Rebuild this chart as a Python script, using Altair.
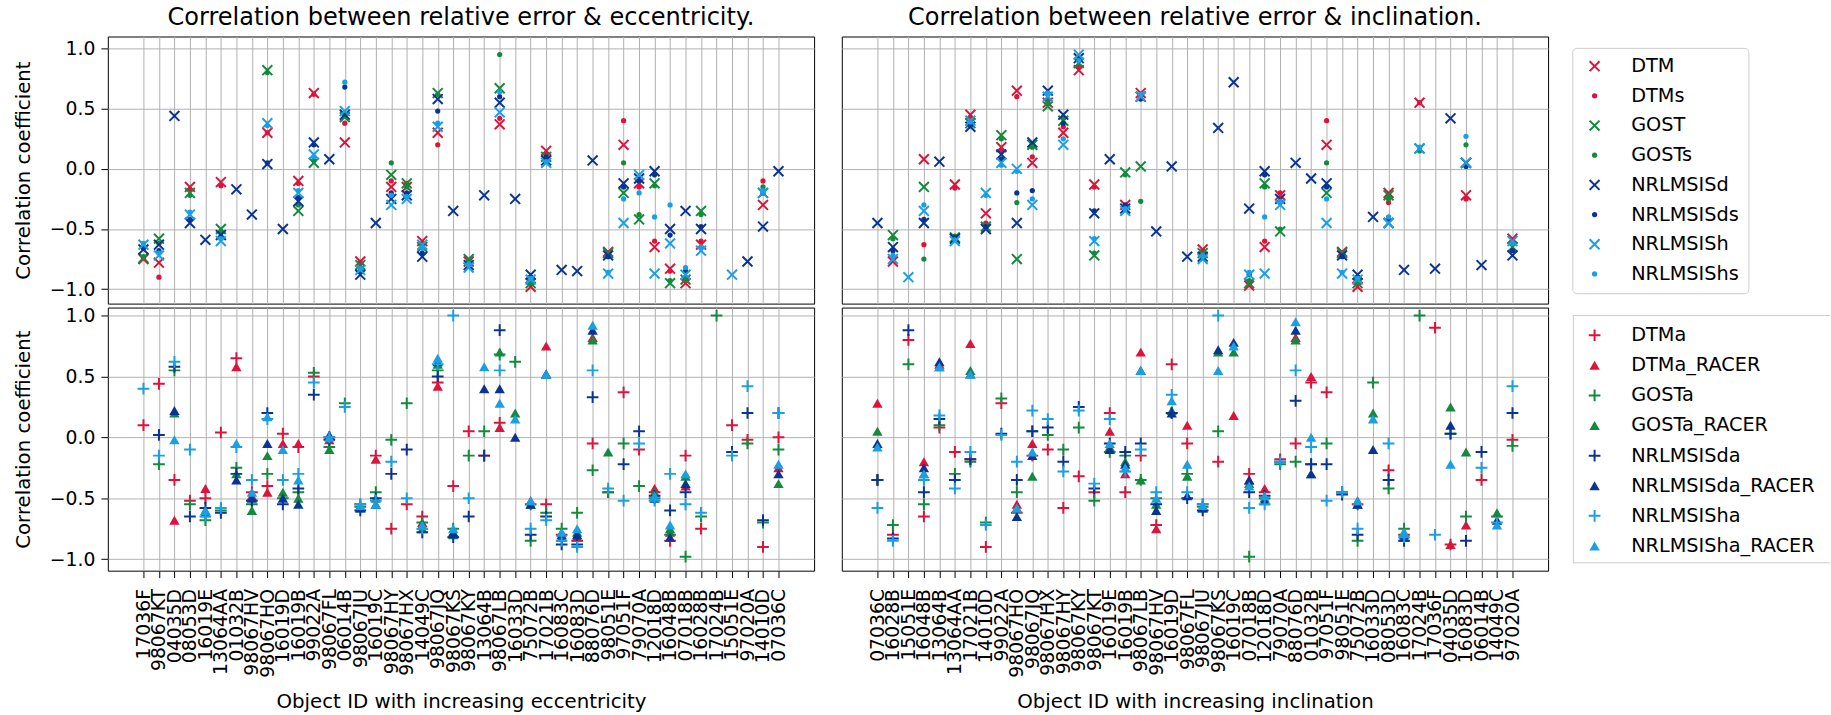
import json

import altair as alt
import pandas as pd

N = None

# Objects ordered by increasing eccentricity / inclination
ECC_IDS = ["17036F", "98067KT", "04035D", "08053D", "16019E", "13064AA", "01032B",
           "98067HV", "98067HO", "16019D", "16019B", "99022A", "98067FL", "06014B",
           "98067JU", "16019C", "98067HY", "98067HX", "14049C", "98067JQ", "98067KS",
           "98067KY", "13064B", "98067LB", "16033D", "75072B", "17021B", "16083C",
           "16083D", "88076D", "98051E", "97051F", "79070A", "12018D", "16048B",
           "07018B", "16028B", "17024B", "15051E", "97020A", "14010D", "07036C"]
INC_IDS = ["07036C", "16028B", "15051E", "16048B", "13064B", "13064AA", "17021B",
           "14010D", "99022A", "98067HO", "98067JQ", "98067HX", "98067HY", "98067KY",
           "98067KT", "16019E", "16019B", "98067LB", "98067HV", "16019D", "98067FL",
           "98067JU", "98067KS", "16019C", "07018B", "12018D", "79070A", "88076D",
           "01032B", "97051F", "98051E", "75072B", "16033D", "08053D", "16083C",
           "17024B", "17036F", "04035D", "16083D", "06014B", "14049C", "97020A"]

TOP_SERIES = ["DTM", "DTMs", "GOST", "GOSTs", "NRLMSISd", "NRLMSISds", "NRLMSISh", "NRLMSIShs"]
BOT_SERIES = ["DTMa", "DTMa_RACER", "GOSTa", "GOSTa_RACER",
              "NRLMSISda", "NRLMSISda_RACER", "NRLMSISha", "NRLMSISha_RACER"]

# ---- correlation with eccentricity: density models ----
ECC_TOP = {
    "DTM":       [-0.75, -0.78, N, -0.15, N, -0.11, N, N, 0.30, N, -0.10, 0.63, N, 0.22, -0.77, N, -0.15, -0.15, -0.60, 0.30, N, -0.77, N, 0.37, N, -0.98, 0.15, N, N, N, -0.69, 0.20, -0.12, -0.65, -0.83, -0.95, -0.63, N, N, N, -0.30, N],
    "DTMs":      [-0.74, -0.90, N, -0.17, N, -0.14, N, N, 0.30, N, -0.12, 0.62, N, 0.38, -0.78, N, -0.10, -0.12, -0.62, 0.20, N, -0.78, N, 0.42, N, -0.95, 0.12, N, N, N, -0.70, 0.40, -0.15, -0.60, -0.85, -0.92, -0.60, N, N, N, -0.10, N],
    "GOST":      [-0.74, -0.58, N, -0.20, N, -0.50, N, N, 0.82, N, -0.35, 0.05, N, 0.43, -0.80, N, -0.05, -0.12, -0.65, 0.63, N, -0.75, N, 0.67, N, -0.95, 0.10, N, N, N, -0.70, -0.20, -0.42, -0.12, -0.95, -0.92, -0.35, N, N, N, -0.20, N],
    "GOSTs":     [-0.73, -0.62, N, -0.22, N, -0.52, N, N, 0.80, N, -0.30, 0.07, N, 0.45, -0.82, N, 0.05, -0.15, -0.64, 0.62, N, -0.76, N, 0.95, N, -0.93, 0.08, N, N, N, -0.71, 0.05, -0.38, -0.14, -0.93, -0.90, -0.38, N, N, N, -0.15, N],
    "NRLMSISd":  [-0.67, -0.63, 0.44, -0.45, -0.59, -0.55, -0.17, -0.38, 0.04, -0.50, -0.27, 0.22, 0.08, 0.45, -0.88, -0.45, -0.25, -0.22, -0.73, 0.58, -0.35, -0.80, -0.22, 0.55, -0.25, -0.88, 0.07, -0.84, -0.85, 0.07, -0.72, -0.12, -0.08, -0.02, -0.50, -0.35, -0.50, N, N, -0.77, -0.48, -0.02],
    "NRLMSISds": [-0.66, -0.68, N, -0.42, N, -0.56, N, N, 0.05, N, -0.24, 0.20, N, 0.68, -0.85, N, -0.20, -0.20, -0.70, 0.48, N, -0.80, N, 0.60, N, -0.90, 0.10, N, N, N, -0.73, -0.15, -0.10, -0.05, -0.55, -0.85, -0.48, N, N, N, -0.20, N],
    "NRLMSISh":  [-0.63, -0.72, N, -0.38, N, -0.60, N, N, 0.38, N, -0.20, 0.12, N, 0.48, -0.84, N, -0.30, -0.25, -0.63, 0.35, N, -0.82, N, 0.47, N, -0.92, 0.05, N, N, N, -0.87, -0.45, -0.05, -0.87, -0.62, -0.88, -0.68, N, -0.88, N, -0.20, N],
    "NRLMSIShs": [-0.62, -0.70, N, -0.36, N, -0.58, N, N, 0.36, N, -0.18, 0.10, N, 0.72, -0.83, N, -0.22, -0.23, -0.66, 0.38, N, -0.79, N, 0.64, N, -0.91, 0.06, N, N, N, -0.86, -0.25, -0.20, -0.40, -0.30, -0.82, -0.65, N, N, N, -0.18, N],
}

# ---- correlation with inclination: density models ----
INC_TOP = {
    "DTM":       [N, -0.77, N, 0.08, N, -0.13, 0.45, -0.37, 0.18, 0.65, 0.05, 0.55, 0.30, 0.82, -0.13, N, -0.30, 0.63, N, N, N, -0.67, N, N, -0.97, -0.65, -0.22, N, N, 0.20, -0.69, -0.98, N, -0.20, N, 0.55, N, N, -0.22, N, N, -0.58],
    "DTMs":      [N, -0.75, N, -0.63, N, -0.16, 0.42, -0.45, 0.15, 0.60, 0.10, 0.58, 0.35, 0.85, -0.15, N, -0.32, 0.62, N, N, N, -0.68, N, N, -0.95, -0.60, -0.20, N, N, 0.40, -0.70, -0.95, N, -0.28, N, 0.55, N, N, -0.25, N, N, -0.60],
    "GOST":      [N, -0.55, N, -0.15, N, -0.57, 0.38, -0.48, 0.28, -0.75, 0.20, 0.52, 0.40, 0.88, -0.72, N, -0.03, 0.02, N, N, N, -0.70, N, N, -0.95, -0.12, -0.52, N, N, -0.20, -0.70, -0.95, N, -0.22, N, 0.17, N, N, 0.05, N, N, -0.65],
    "GOSTs":     [N, -0.58, N, -0.75, N, -0.56, 0.37, -0.47, 0.25, -0.28, 0.18, 0.55, 0.42, 0.90, -0.70, N, -0.05, -0.27, N, N, N, -0.71, N, N, -0.93, -0.15, -0.50, N, N, 0.05, -0.71, -0.93, N, -0.25, N, 0.15, N, N, 0.20, N, N, -0.62],
    "NRLMSISd":  [-0.45, -0.65, N, -0.45, 0.06, -0.58, 0.35, -0.50, 0.12, -0.45, 0.22, 0.65, 0.45, 0.92, -0.37, 0.08, -0.33, 0.60, -0.52, 0.02, -0.73, -0.73, 0.34, 0.72, -0.33, -0.02, -0.25, 0.05, -0.08, -0.12, -0.72, -0.88, -0.40, -0.45, -0.84, N, -0.83, 0.42, 0.05, -0.80, N, -0.72],
    "NRLMSISds": [N, -0.68, N, -0.42, N, -0.57, 0.36, -0.48, 0.08, -0.20, -0.18, 0.62, 0.38, 0.93, -0.35, N, -0.30, 0.58, N, N, N, -0.74, N, N, -0.88, -0.05, -0.28, N, N, -0.15, -0.73, -0.90, N, -0.42, N, N, N, N, 0.02, N, N, -0.68],
    "NRLMSISh":  [N, -0.75, -0.90, -0.35, N, -0.60, 0.40, -0.20, 0.05, 0.00, -0.30, 0.60, 0.20, 0.95, -0.60, N, -0.35, 0.60, N, N, N, -0.75, N, N, -0.88, -0.87, -0.30, N, N, -0.45, -0.87, -0.92, N, -0.45, N, 0.17, N, N, 0.05, N, N, -0.60],
    "NRLMSIShs": [N, -0.72, N, -0.30, N, -0.59, 0.39, -0.22, 0.03, -0.02, -0.25, 0.63, 0.25, 0.90, -0.58, N, -0.33, 0.62, N, N, N, -0.72, N, N, -0.86, -0.40, -0.27, N, N, -0.25, -0.86, -0.91, N, -0.40, N, 0.18, N, N, 0.27, N, N, -0.62],
}

# ---- correlation with eccentricity: adjusted models ----
ECC_BOT = {
    "DTMa":            [0.10, 0.44, -0.35, -0.52, -0.50, 0.04, 0.65, -0.45, -0.40, 0.03, -0.08, 0.50, 0.00, N, -0.55, -0.15, -0.75, -0.55, -0.65, 0.45, -0.40, 0.05, -0.15, 0.12, N, -0.55, -0.55, -0.80, -0.85, -0.05, -0.45, 0.37, -0.10, -0.45, -0.85, -0.15, -0.75, N, 0.10, -0.02, -0.90, 0.00],
    "DTMa_RACER":      [N, N, -0.68, N, -0.42, N, 0.58, -0.48, -0.45, -0.05, -0.05, N, -0.02, N, -0.57, -0.18, N, N, -0.70, 0.42, -0.78, N, N, 0.08, N, -0.52, 0.75, -0.82, -0.82, 0.82, N, N, N, -0.42, -0.78, -0.40, N, N, N, N, N, -0.25],
    "GOSTa":           [N, -0.22, 0.55, -0.55, -0.68, -0.60, -0.25, -0.55, -0.30, -0.50, -0.45, 0.53, -0.08, 0.28, -0.57, -0.45, -0.02, 0.28, -0.70, 0.55, -0.75, -0.15, 0.05, 0.68, 0.62, -0.85, -0.62, -0.75, -0.62, -0.27, -0.45, -0.05, -0.40, -0.50, -0.80, -0.98, -0.65, 1.00, N, -0.05, -0.70, -0.10],
    "GOSTa_RACER":     [N, N, 0.20, N, -0.60, N, -0.30, -0.60, -0.15, -0.45, -0.50, N, -0.10, N, -0.58, -0.50, N, N, -0.75, 0.60, -0.80, N, N, 0.70, 0.20, -0.55, 0.52, -0.78, -0.78, 0.80, -0.12, N, N, -0.45, -0.75, -0.32, N, N, N, N, N, -0.38],
    "NRLMSISda":       [N, 0.02, 0.58, -0.65, -0.58, -0.62, -0.30, -0.52, 0.20, -0.55, -0.42, 0.35, -0.02, N, -0.60, -0.50, -0.30, -0.10, -0.78, 0.50, -0.82, -0.65, -0.15, 0.88, N, -0.80, -0.65, -0.88, -0.88, 0.33, N, -0.22, 0.05, -0.48, -0.60, -0.45, N, N, -0.12, 0.20, -0.68, 0.20],
    "NRLMSISda_RACER": [N, N, 0.22, N, -0.62, N, -0.35, -0.50, -0.05, -0.50, -0.55, N, 0.02, N, -0.58, -0.55, N, N, -0.72, 0.62, -0.78, N, 0.40, 0.40, 0.00, -0.55, 0.52, -0.80, -0.80, 0.88, N, N, N, -0.50, -0.82, -0.38, N, N, N, N, N, -0.30],
    "NRLMSISha":       [0.40, -0.15, 0.62, -0.10, -0.65, -0.58, -0.08, -0.35, 0.15, -0.35, -0.30, 0.45, 0.00, 0.25, -0.55, -0.52, -0.20, -0.50, -0.75, 0.60, 1.00, -0.50, N, 0.55, N, -0.75, -0.68, -0.85, -0.90, 0.55, -0.42, -0.52, -0.05, -0.52, -0.30, -0.55, -0.62, N, -0.15, 0.42, N, 0.20],
    "NRLMSISha_RACER": [N, N, -0.02, N, -0.60, N, -0.05, -0.45, 0.17, -0.10, -0.35, N, 0.00, N, -0.56, -0.55, N, N, -0.72, 0.65, -0.75, N, 0.58, 0.28, 0.15, -0.52, 0.52, -0.78, -0.75, 0.92, N, N, N, -0.48, -0.72, -0.30, N, N, N, N, N, -0.22],
}

# ---- correlation with inclination: adjusted models ----
INC_BOT = {
    "DTMa":            [-0.35, -0.80, 0.80, -0.65, 0.08, -0.12, -0.18, -0.90, 0.28, -0.62, -0.15, -0.10, -0.58, -0.32, -0.45, 0.20, -0.45, -0.15, -0.72, 0.60, -0.05, -0.55, -0.20, N, -0.30, -0.45, -0.18, -0.05, 0.45, 0.37, -0.45, -0.55, N, -0.27, -0.80, N, 0.90, -0.88, N, -0.35, N, -0.02],
    "DTMa_RACER":      [0.28, N, N, -0.20, 0.60, N, 0.77, N, N, -0.55, -0.05, N, N, N, N, 0.05, -0.30, 0.70, -0.75, N, 0.10, -0.57, N, 0.18, -0.35, -0.42, N, 0.82, 0.50, N, N, -0.52, N, N, -0.82, N, N, -0.88, -0.72, N, N, N],
    "GOSTa":           [-0.35, -0.72, 0.60, -0.55, 0.10, -0.30, -0.20, -0.70, 0.32, -0.45, 0.05, 0.02, -0.10, 0.08, -0.52, -0.12, -0.15, -0.35, -0.50, 0.20, -0.30, -0.57, 0.05, N, -0.98, -0.50, -0.22, -0.20, -0.22, -0.05, -0.45, -0.85, 0.45, -0.42, -0.75, 1.00, N, 0.03, -0.65, N, -0.65, -0.07],
    "GOSTa_RACER":     [0.05, N, N, -0.30, 0.58, N, 0.55, N, N, -0.58, -0.32, N, N, N, N, -0.08, -0.20, -0.35, -0.55, 0.22, -0.32, -0.58, 0.70, 0.70, -0.38, -0.50, N, 0.80, -0.30, N, N, -0.55, 0.20, N, -0.78, N, N, 0.25, -0.12, N, -0.62, N],
    "NRLMSISda":       [-0.35, -0.83, 0.88, -0.45, 0.15, -0.35, -0.18, N, 0.03, -0.35, 0.05, 0.08, -0.20, 0.25, -0.42, -0.05, -0.12, -0.05, -0.55, 0.20, -0.50, -0.60, N, N, -0.45, -0.48, -0.20, 0.30, -0.22, -0.22, -0.47, -0.80, N, -0.35, -0.85, N, N, 0.03, -0.85, -0.12, N, 0.20],
    "NRLMSISda_RACER": [-0.05, N, N, -0.25, 0.62, N, 0.52, N, N, -0.65, -0.15, N, N, N, N, -0.10, -0.22, 0.55, -0.60, 0.20, -0.48, -0.58, 0.72, 0.78, -0.35, -0.52, N, 0.88, -0.30, N, N, -0.55, -0.10, N, -0.80, N, N, 0.10, N, N, -0.68, N],
    "NRLMSISha":       [-0.58, -0.85, N, -0.35, 0.18, -0.42, -0.12, -0.72, 0.02, -0.20, 0.22, 0.15, -0.28, 0.22, -0.38, 0.15, -0.28, -0.10, -0.45, 0.35, -0.45, -0.55, 1.00, N, -0.58, -0.55, -0.20, 0.55, -0.08, -0.52, -0.45, -0.75, N, -0.05, -0.82, N, -0.80, N, N, -0.25, -0.70, 0.42],
    "NRLMSISha_RACER": [-0.08, N, N, -0.30, 0.58, N, 0.52, N, N, -0.58, -0.12, N, N, N, N, -0.05, -0.25, 0.55, -0.50, 0.30, -0.22, -0.56, 0.55, 0.75, -0.40, -0.48, N, 0.95, 0.00, N, N, -0.52, 0.15, N, -0.78, N, N, -0.22, N, N, -0.72, N],
}

# Marker styling per series: colour, shape, filled, size
RED, GREEN, NAVY, SKY = "#dc143c", "#138a3c", "#0b3492", "#1a9fe3"
X_PATH = "M-1,-1L1,1M-1,1L1,-1"
PLUS_PATH = "M-1,0L1,0M0,-1L0,1"
STYLE = {
    "DTM": (RED, X_PATH, False, 100), "DTMs": (RED, "circle", True, 28),
    "GOST": (GREEN, X_PATH, False, 100), "GOSTs": (GREEN, "circle", True, 28),
    "NRLMSISd": (NAVY, X_PATH, False, 100), "NRLMSISds": (NAVY, "circle", True, 28),
    "NRLMSISh": (SKY, X_PATH, False, 100), "NRLMSIShs": (SKY, "circle", True, 28),
    "DTMa": (RED, PLUS_PATH, False, 140), "DTMa_RACER": (RED, "triangle-up", True, 110),
    "GOSTa": (GREEN, PLUS_PATH, False, 140), "GOSTa_RACER": (GREEN, "triangle-up", True, 110),
    "NRLMSISda": (NAVY, PLUS_PATH, False, 140), "NRLMSISda_RACER": (NAVY, "triangle-up", True, 110),
    "NRLMSISha": (SKY, PLUS_PATH, False, 140), "NRLMSISha_RACER": (SKY, "triangle-up", True, 110),
}

FONT = "DejaVu Sans"
PANEL_W = 714
TOP_H, BOT_H = 270, 266
TICKS = [-1.0, -0.5, 0.0, 0.5, 1.0]
X_MARGIN = 2.3  # category slots left free on each side of the first/last object


def to_long(ids, table):
    rows = []
    for name, vals in table.items():
        if len(vals) != len(ids):
            raise ValueError(f"{name}: {len(vals)} values for {len(ids)} objects")
        for pos, v in enumerate(vals):
            if v is not None:
                rows.append({"pos": pos, "obj": ids[pos], "series": name, "value": v})
    return pd.DataFrame(rows)


def point_mark(series_name):
    color, shape, filled, size = STYLE[series_name]
    mark = dict(shape=shape, size=size, filled=filled, opacity=1)
    if filled:
        mark["fill"] = color
    else:
        mark.update(stroke=color, strokeWidth=2)
    return mark


def panel(ids, table, series, dom, height, top_row, left_col, title="", xtitle=""):
    data = to_long(ids, table)
    positions = list(range(len(ids)))
    if top_row:
        xaxis = alt.Axis(values=positions, title=None, labels=False, ticks=False,
                         domain=False, grid=True)
    else:
        xaxis = alt.Axis(values=positions, labelExpr=f"{json.dumps(ids)}[datum.value]",
                         title=xtitle, labelAngle=270, labelOverlap=False, labelFlush=False,
                         labelPadding=11, tickSize=7, domain=False, grid=True, titlePadding=15)
    if left_col:
        yaxis = alt.Axis(values=TICKS, format=".1f", title="Correlation coefficient",
                         tickSize=7, labelPadding=6, domain=False, grid=True, titlePadding=16)
    else:
        yaxis = alt.Axis(values=TICKS, labels=False, ticks=False, title=None,
                         domain=False, grid=True)
    x = alt.X("pos:Q", axis=xaxis,
              scale=alt.Scale(domain=[-X_MARGIN, len(ids) - 1 + X_MARGIN], nice=False, zero=False))
    y = alt.Y("value:Q", scale=alt.Scale(domain=dom, nice=False, zero=False), axis=yaxis)
    layers = [
        alt.Chart(data).transform_filter(alt.datum.series == s)
        .mark_point(**point_mark(s)).encode(x=x, y=y)
        for s in series
    ]
    props = dict(width=PANEL_W, height=height)
    if title:
        props["title"] = alt.TitleParams(title, fontSize=24.3, font=FONT, fontWeight="normal",
                                         anchor="middle", offset=6, color="black")
    return alt.layer(*layers).properties(**props)


def legend(series, height, width, box, y_first, y_last, closed):
    ldf = pd.DataFrame({"series": series})
    y = alt.Y("series:N", sort=series, axis=None,
              scale=alt.Scale(domain=series, range=[y_first, y_last], padding=0))
    x0, x1, y0, y1 = box
    first = alt.Chart(ldf).transform_filter(alt.datum.series == series[0])
    layers = [
        first.mark_rect(fill="white", stroke="#cccccc" if closed else "transparent",
                        strokeWidth=1, cornerRadius=4)
        .encode(x=alt.value(x0), x2=alt.value(x1), y=alt.value(y0), y2=alt.value(y1))
    ]
    if not closed:
        edge = first.mark_rule(color="#cccccc", strokeWidth=1)
        layers += [
            edge.encode(x=alt.value(x0), x2=alt.value(x1), y=alt.value(y0)),
            edge.encode(x=alt.value(x0), x2=alt.value(x1), y=alt.value(y1)),
            edge.encode(x=alt.value(x0 + 0.5), y=alt.value(y0), y2=alt.value(y1)),
        ]
    for s in series:
        layers.append(
            alt.Chart(ldf).transform_filter(alt.datum.series == s)
            .mark_point(**point_mark(s)).encode(x=alt.value(22), y=y)
        )
    layers.append(
        alt.Chart(ldf).mark_text(align="left", baseline="middle", font=FONT,
                                 fontSize=19.5, color="black")
        .encode(x=alt.value(59), y=y, text="series:N")
    )
    return alt.layer(*layers).properties(
        width=width, height=height, view=alt.ViewBackground(stroke="transparent"))


TOP_DOM = [-1.12, 1.10]
BOT_DOM = [-1.095, 1.066]

tl = panel(ECC_IDS, ECC_TOP, TOP_SERIES, TOP_DOM, TOP_H, True, True,
           title="Correlation between relative error & eccentricity.")
tr = panel(INC_IDS, INC_TOP, TOP_SERIES, TOP_DOM, TOP_H, True, False,
           title="Correlation between relative error & inclination.")
bl = panel(ECC_IDS, ECC_BOT, BOT_SERIES, BOT_DOM, BOT_H, False, True,
           xtitle="Object ID with increasing eccentricity")
br = panel(INC_IDS, INC_BOT, BOT_SERIES, BOT_DOM, BOT_H, False, False,
           xtitle="Object ID with increasing inclination")

leg_top = legend(TOP_SERIES, TOP_H, 180, (0, 178, 12, 260), 30, 240, True)
leg_bot = legend(BOT_SERIES, BOT_H, 235, (0, 260, 8, 258), 28, 241, False)

row1 = alt.hconcat(alt.hconcat(tl, tr, spacing=26), leg_top, spacing=23)
row2 = alt.hconcat(alt.hconcat(bl, br, spacing=26), leg_bot, spacing=23)

chart = (
    alt.vconcat(row1, row2, spacing=0)
    .properties(padding={"left": 13, "top": 2, "right": 0, "bottom": 0}, background="white")
    .configure_view(stroke="black", strokeWidth=1)
    .configure_axis(labelFont=FONT, titleFont=FONT, labelFontSize=19, titleFontSize=20,
                    titleFontWeight="normal", labelColor="black", titleColor="black",
                    tickColor="black", gridColor="#b0b0b0", gridWidth=1)
)

chart.save("out.html", embed_options={"renderer": "svg", "actions": False})
